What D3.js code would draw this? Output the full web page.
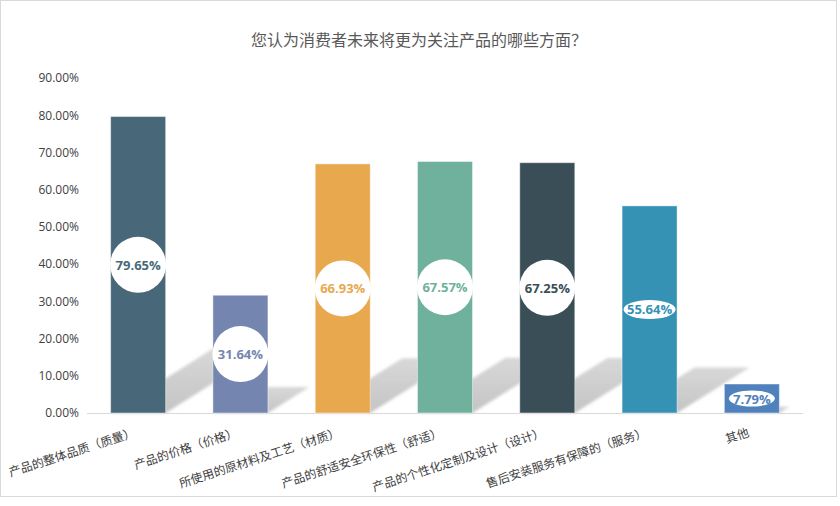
<!DOCTYPE html>
<html>
<head>
<meta charset="utf-8">
<script src="https://cdn.jsdelivr.net/npm/d3@7"></script>
<style>
    body { margin: 0; background: #ffffff; }
    #chart { width: 840px; height: 506px; }
    .title { font-family: "Noto Sans CJK SC", sans-serif; font-size: 16px; fill: #595959; }
    .y-axis text { font-family: "Open Sans", sans-serif; font-size: 12px; fill: #404040; }
    .x-label { font-family: "Noto Sans CJK SC", sans-serif; font-size: 12px; fill: #404040; }
    .value-label { font-family: "Open Sans", sans-serif; font-size: 13px; font-weight: bold; }
</style>
</head>
<body>
<div id="chart"></div>
<script>
// Chart data
const categories = [
    "产品的整体品质（质量）",
    "产品的价格（价格）",
    "所使用的原材料及工艺（材质）",
    "产品的舒适安全环保性（舒适）",
    "产品的个性化定制及设计（设计）",
    "售后安装服务有保障的（服务）",
    "其他"
];
const values = [79.65, 31.64, 66.93, 67.57, 67.25, 55.64, 7.79];
const yTicks = [0, 10, 20, 30, 40, 50, 60, 70, 80, 90];
const titleText = "您认为消费者未来将更为关注产品的哪些方面？";

// Styles
const barColors = ["#48687a", "#7486b0", "#e8a84d", "#6fb19c", "#3a4e58", "#3592b5", "#4f81bd"];
const ellipseLabels = new Set([5, 6]); // these two use flat oval data labels

const width = 840;
const height = 506;

const svg = d3.select("#chart")
    .append("svg")
    .attr("width", width)
    .attr("height", height);

// Outer chart frame
svg.append("rect")
    .attr("x", 0.5)
    .attr("y", 0.5)
    .attr("width", 836)
    .attr("height", 496)
    .attr("fill", "#ffffff")
    .attr("stroke", "#d9d9d9");

const defs = svg.append("defs");
defs.append("filter")
    .attr("id", "blur")
    .attr("x", "-20%").attr("y", "-20%")
    .attr("width", "140%").attr("height", "140%")
    .append("feGaussianBlur")
    .attr("stdDeviation", 1.8);

const grad = defs.append("linearGradient")
    .attr("id", "shadowGrad")
    .attr("x1", 0).attr("y1", 1)
    .attr("x2", 0).attr("y2", 0);
grad.append("stop").attr("offset", "0%").attr("stop-color", "#c4c4c4");
grad.append("stop").attr("offset", "100%").attr("stop-color", "#d8d8d8");

// Scales
const x = d3.scaleBand()
    .domain(categories)
    .range([87, 803])
    .paddingInner(0.462)
    .paddingOuter(0.231);

const y = d3.scaleLinear()
    .domain([0, 90])
    .range([413, 78]);

// Title
svg.append("text")
    .attr("class", "title")
    .attr("x", 419)
    .attr("y", 39)
    .attr("text-anchor", "middle")
    .attr("dominant-baseline", "central")
    .text(titleText);

// Y axis (labels only)
const yAxis = svg.append("g")
    .attr("class", "y-axis")
    .attr("transform", "translate(87,0)")
    .call(d3.axisLeft(y)
        .tickValues(yTicks)
        .tickSize(0)
        .tickPadding(8)
        .tickFormat(d => d.toFixed(2) + "%"));
yAxis.select(".domain").remove();

// Bar shadows: each bar sheared down and to the right
const base = y(0);
const shearX = 0.35;
const shearY = 0.22;
svg.append("g")
    .selectAll("polygon")
    .data(values)
    .enter()
    .append("polygon")
    .attr("points", (d, i) => {
        const x0 = x(categories[i]);
        const x1 = x0 + x.bandwidth();
        const h = base - y(d);
        return [
            [x0, base],
            [x1, base],
            [x1 + h * shearX, base - h * shearY],
            [x0 + h * shearX, base - h * shearY]
        ].map(p => p.join(",")).join(" ");
    })
    .attr("fill", "url(#shadowGrad)")
    .attr("filter", "url(#blur)");

// Baseline
svg.append("line")
    .attr("x1", 87)
    .attr("x2", 803)
    .attr("y1", base + 0.5)
    .attr("y2", base + 0.5)
    .attr("stroke", "#d9d9d9");

// Bars
svg.append("g")
    .selectAll("rect")
    .data(values)
    .enter()
    .append("rect")
    .attr("x", (d, i) => x(categories[i]))
    .attr("y", d => y(d))
    .attr("width", x.bandwidth())
    .attr("height", d => base - y(d))
    .attr("fill", (d, i) => barColors[i])
    .attr("stroke", "#ffffff")
    .attr("stroke-opacity", 0.45)
    .attr("stroke-width", 1);

// Data labels
const labels = svg.append("g")
    .selectAll("g")
    .data(values)
    .enter()
    .append("g")
    .attr("transform", (d, i) => {
        const cx = x(categories[i]) + x.bandwidth() / 2;
        const cy = (y(d) + base) / 2;
        return `translate(${cx},${cy})`;
    });

labels.append("ellipse")
    .attr("rx", (d, i) => ellipseLabels.has(i) ? (i === 6 ? 23 : 26) : 28)
    .attr("ry", (d, i) => ellipseLabels.has(i) ? (i === 6 ? 8 : 9.5) : 28)
    .attr("fill", "#ffffff");

labels.append("text")
    .attr("class", "value-label")
    .attr("text-anchor", "middle")
    .attr("dominant-baseline", "central")
    .attr("fill", (d, i) => barColors[i])
    .text(d => d.toFixed(2) + "%");

// Rotated category labels
svg.append("g")
    .selectAll("text")
    .data(categories)
    .enter()
    .append("text")
    .attr("class", "x-label")
    .attr("text-anchor", "end")
    .attr("transform", d => `translate(${x(d) + x.bandwidth() / 2 - 2},436) rotate(-18)`)
    .text(d => d);
</script>
</body>
</html>
